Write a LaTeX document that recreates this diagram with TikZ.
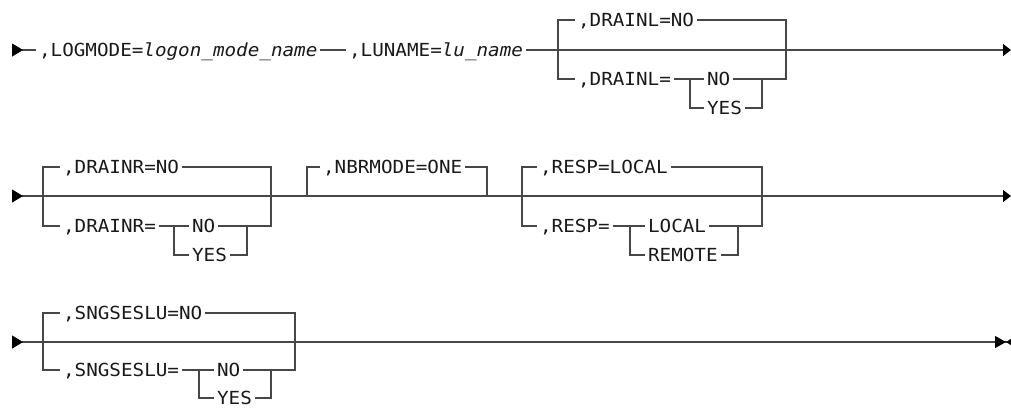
\documentclass[tikz,border=0pt]{standalone}
\usepackage{fontspec}
\setmonofont{DejaVu Sans Mono}[FakeStretch=1.07]
\usetikzlibrary{arrows.meta}

\begin{document}
\begin{tikzpicture}[
	x=1pt, y=-1pt,
	line width=1.2pt,
	rail/.style={draw=black!72},
	kw/.style={
		font=\ttfamily\fontsize{18}{20}\selectfont,
		text=black!90,
		inner xsep=2.5pt,
		inner ysep=0pt,
		text height=13pt,
		text depth=0pt,
		anchor=west
	},
	begin/.style={rail, {Triangle[reversed,length=11pt,width=13pt,black]}-},
	row/.style={rail, {Triangle[reversed,length=11pt,width=13pt,black]}-{Triangle[length=8pt,width=12pt,black]}},
	goon/.style={rail, -{Triangle[length=8pt,width=12pt,black]}},
	stop/.style={rail, {Triangle[reversed,length=11pt,width=13pt,black]}-{Triangle[length=11pt,width=12pt,black]Triangle[reversed,length=5pt,width=6pt,black]}}
	]
	\useasboundingbox (0,0) rectangle (1011,408);
	
	% row 1
	\coordinate (s1) at (12,50);
	\coordinate (e1) at (1011,50);
	\node[kw] (logmode) at (36,50) {,LOGMODE=\textit{logon\_mode\_name}};
	\node[kw] (luname) at (346,50) {,LUNAME=\textit{lu\_name}};
	\draw[begin] (s1) -- (logmode.west);
	\draw[rail] (logmode.east) -- (luname.west);
	\draw[goon] (luname.east) -- (e1);
	
	\node[kw] (dlno) at (575,20) {,DRAINL=NO};
	\node[kw] (dl) at (575,79) {,DRAINL=};
	\node[kw] (dlno2) at (704,79) {NO};
	\node[kw] (dlyes) at (704,108) {YES};
	\coordinate (dlL) at (558,79);
	\coordinate (dlR) at (786,79);
	\coordinate (dliL) at (690,79);
	\coordinate (dliR) at (762,79);
	\draw[rail] (dlno.west) -| (dlL) -- (dl.west);
	\draw[rail] (dlno.east) -| (dlR) -- (dlno2.east);
	\draw[rail] (dl.east) -- (dlno2.west);
	\draw[rail] (dliL) |- (dlyes.west);
	\draw[rail] (dlyes.east) -| (dliR);
	
	% row 2
	\coordinate (s2) at (12,196);
	\coordinate (e2) at (1011,196);
	\draw[row] (s2) -- (e2);
	
	\node[kw] (drno) at (60,167) {,DRAINR=NO};
	\node[kw] (dr) at (60,226) {,DRAINR=};
	\node[kw] (drno2) at (189,226) {NO};
	\node[kw] (dryes) at (189,255) {YES};
	\coordinate (drL) at (43,226);
	\coordinate (drR) at (271,226);
	\coordinate (driL) at (174,226);
	\coordinate (driR) at (247,226);
	\draw[rail] (drno.west) -| (drL) -- (dr.west);
	\draw[rail] (drno.east) -| (drR) -- (drno2.east);
	\draw[rail] (dr.east) -- (drno2.west);
	\draw[rail] (driL) |- (dryes.west);
	\draw[rail] (dryes.east) -| (driR);
	
	\node[kw] (nbr) at (320,167) {,NBRMODE=ONE};
	\coordinate (nbrL) at (307,196);
	\coordinate (nbrR) at (487,196);
	\draw[rail] (nbr.west) -| (nbrL);
	\draw[rail] (nbr.east) -| (nbrR);
	
	\node[kw] (rsloc) at (537,167) {,RESP=LOCAL};
	\node[kw] (rs) at (537,226) {,RESP=};
	\node[kw] (rsloc2) at (645,226) {LOCAL};
	\node[kw] (rsrem) at (645,255) {REMOTE};
	\coordinate (rsL) at (522,226);
	\coordinate (rsR) at (762,226);
	\coordinate (rsiL) at (630,226);
	\coordinate (rsiR) at (738,226);
	\draw[rail] (rsloc.west) -| (rsL) -- (rs.west);
	\draw[rail] (rsloc.east) -| (rsR) -- (rsloc2.east);
	\draw[rail] (rs.east) -- (rsloc2.west);
	\draw[rail] (rsiL) |- (rsrem.west);
	\draw[rail] (rsrem.east) -| (rsiR);
	
	% row 3
	\coordinate (s3) at (12,342);
	\coordinate (e3) at (1011,342);
	\draw[stop] (s3) -- (e3);
	
	\node[kw] (sgno) at (60,313) {,SNGSESLU=NO};
	\node[kw] (sg) at (60,370) {,SNGSESLU=};
	\node[kw] (sgno2) at (214,370) {NO};
	\node[kw] (sgyes) at (214,398) {YES};
	\coordinate (sgL) at (43,370);
	\coordinate (sgR) at (295,370);
	\coordinate (sgiL) at (199,370);
	\coordinate (sgiR) at (271,370);
	\draw[rail] (sgno.west) -| (sgL) -- (sg.west);
	\draw[rail] (sgno.east) -| (sgR) -- (sgno2.east);
	\draw[rail] (sg.east) -- (sgno2.west);
	\draw[rail] (sgiL) |- (sgyes.west);
	\draw[rail] (sgyes.east) -| (sgiR);
\end{tikzpicture}
\end{document}
